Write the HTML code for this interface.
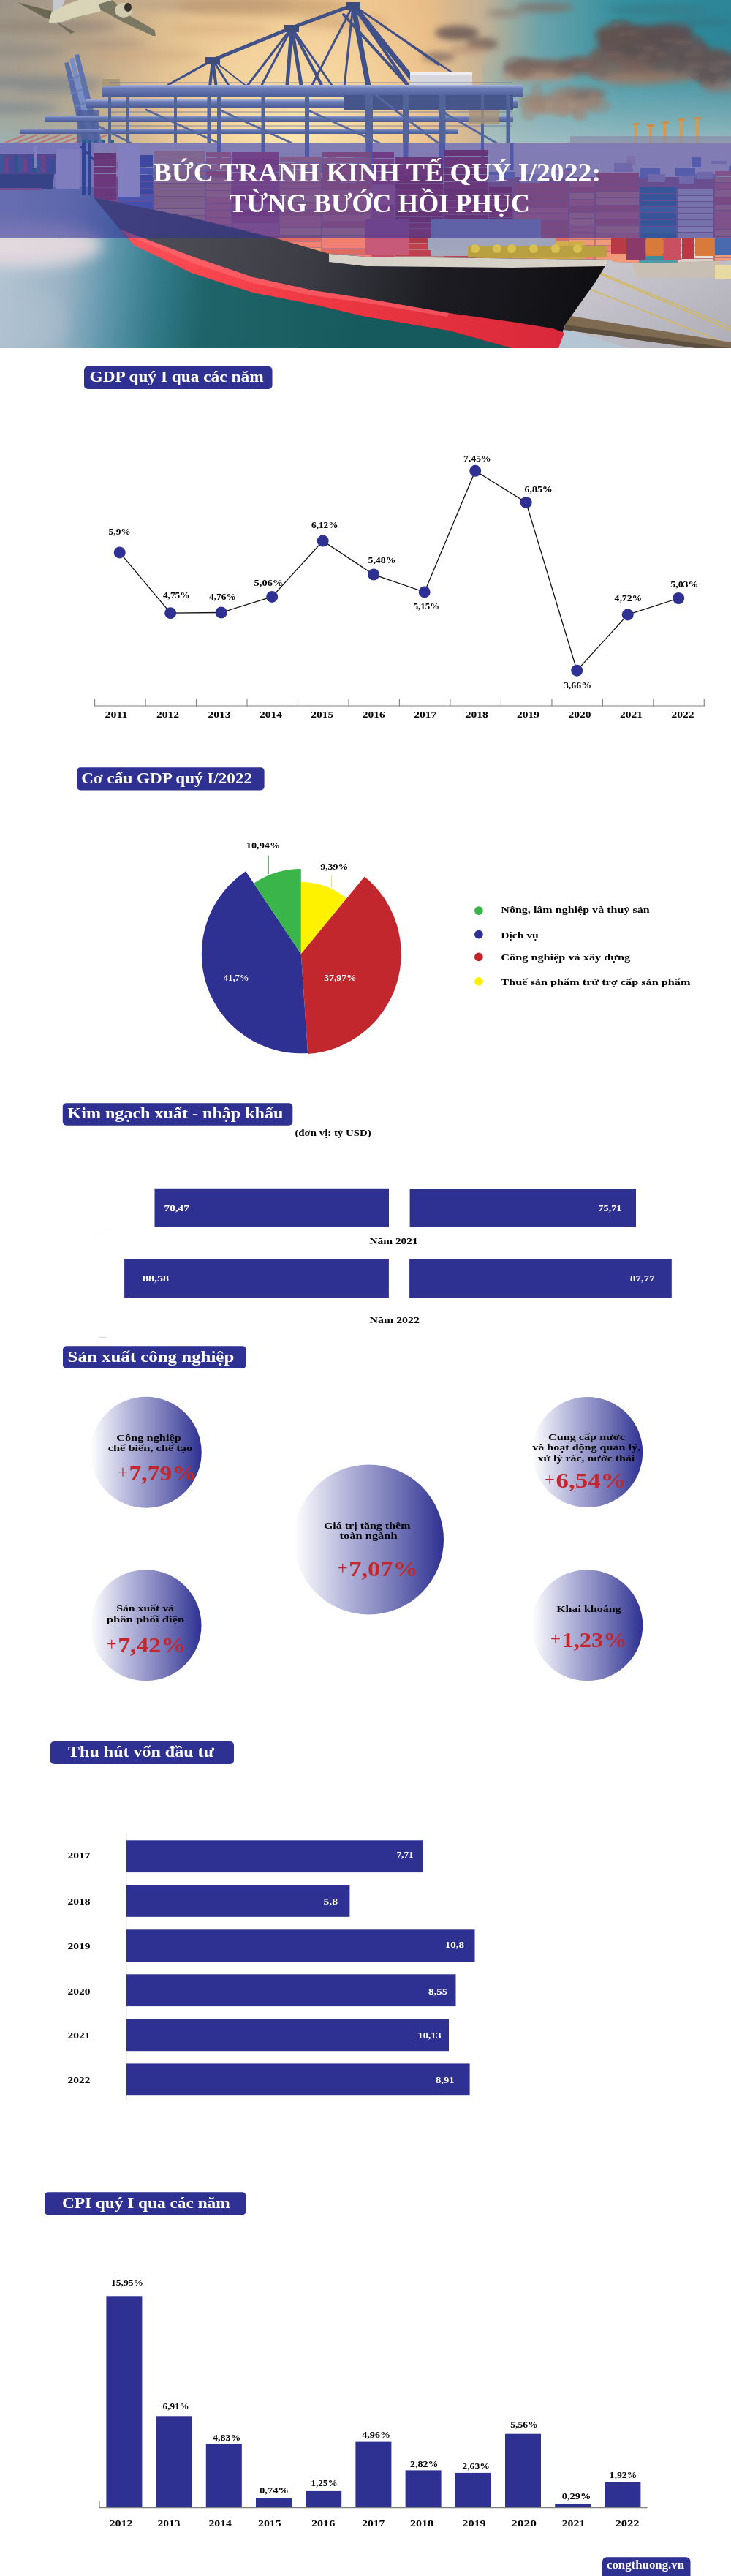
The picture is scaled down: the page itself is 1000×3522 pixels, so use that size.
<!DOCTYPE html>
<html><head><meta charset="utf-8"><title>Bức tranh kinh tế quý I/2022</title>
<style>
html,body{margin:0;padding:0;background:#fff;}
body{width:1000px;height:3522px;overflow:hidden;position:relative;font-family:"Liberation Serif", serif;}
svg{position:absolute;left:0;top:0;display:block;}
svg text{font-family:"Liberation Serif", serif;}
</style></head><body>
<svg width="1000" height="3522" viewBox="0 0 1000 3522">
<defs>
<clipPath id="phc"><rect x="0" y="0" width="1000" height="476"/></clipPath>
<linearGradient id="skyH" x1="0" y1="0" x2="1000" y2="0" gradientUnits="userSpaceOnUse">
 <stop offset="0" stop-color="#a09a90"/><stop offset="0.12" stop-color="#c2ab8c"/>
 <stop offset="0.3" stop-color="#e4c290"/><stop offset="0.46" stop-color="#eec892"/>
 <stop offset="0.58" stop-color="#e8bb86"/><stop offset="0.66" stop-color="#c4b296"/>
 <stop offset="0.74" stop-color="#6aa2aa"/><stop offset="0.85" stop-color="#35909f"/>
 <stop offset="1" stop-color="#2c8596"/></linearGradient>
<radialGradient id="glow" cx="400" cy="190" r="280" gradientUnits="userSpaceOnUse">
 <stop offset="0" stop-color="#fbe6ae" stop-opacity="1"/><stop offset="0.45" stop-color="#f6d6a0" stop-opacity="0.75"/>
 <stop offset="1" stop-color="#f0c890" stop-opacity="0"/></radialGradient>
<linearGradient id="leftV" x1="0" y1="0" x2="0" y2="196" gradientUnits="userSpaceOnUse">
 <stop offset="0" stop-color="#9a8e82" stop-opacity="0.6"/><stop offset="0.5" stop-color="#a8a090" stop-opacity="0.3"/>
 <stop offset="1" stop-color="#9cb4b4" stop-opacity="0.9"/></linearGradient>
<linearGradient id="leftH" x1="0" y1="0" x2="220" y2="0" gradientUnits="userSpaceOnUse">
 <stop offset="0" stop-color="#fff" stop-opacity="1"/><stop offset="1" stop-color="#fff" stop-opacity="0"/></linearGradient>
<mask id="leftM"><rect x="0" y="0" width="220" height="196" fill="url(#leftH)"/></mask>
<linearGradient id="horizR" x1="0" y1="60" x2="0" y2="196" gradientUnits="userSpaceOnUse">
 <stop offset="0" stop-color="#7fb2b8" stop-opacity="0"/><stop offset="1" stop-color="#a4c0c4" stop-opacity="0.9"/></linearGradient>
<linearGradient id="water" x1="0" y1="380" x2="500" y2="440" gradientUnits="userSpaceOnUse">
 <stop offset="0" stop-color="#b4c4d2"/><stop offset="0.18" stop-color="#98b2c4"/>
 <stop offset="0.3" stop-color="#5e96ac"/><stop offset="0.42" stop-color="#357c8c"/><stop offset="0.56" stop-color="#1f6468"/><stop offset="1" stop-color="#175a5e"/></linearGradient>
<linearGradient id="hull" x1="128" y1="270" x2="800" y2="440" gradientUnits="userSpaceOnUse">
 <stop offset="0" stop-color="#55555e"/><stop offset="0.45" stop-color="#3c3c44"/><stop offset="0.7" stop-color="#1c1c22"/><stop offset="1" stop-color="#101014"/></linearGradient>
<linearGradient id="redst" x1="170" y1="0" x2="770" y2="0" gradientUnits="userSpaceOnUse">
 <stop offset="0" stop-color="#ff5058"/><stop offset="0.4" stop-color="#f03a44"/><stop offset="1" stop-color="#d8283a"/></linearGradient>
<linearGradient id="dock" x1="0" y1="0" x2="1" y2="1">
 <stop offset="0" stop-color="#cfcbd2"/><stop offset="1" stop-color="#aeaeb8"/></linearGradient>
<linearGradient id="boom" x1="0" y1="0" x2="0" y2="1">
 <stop offset="0" stop-color="#a8b4de"/><stop offset="0.3" stop-color="#6a7cb6"/><stop offset="1" stop-color="#4a5a94"/></linearGradient>
<filter id="b2" x="-20%" y="-20%" width="140%" height="140%"><feGaussianBlur stdDeviation="2"/></filter>
<filter id="b4" x="-30%" y="-30%" width="160%" height="160%"><feGaussianBlur stdDeviation="4"/></filter>
<filter id="b6" x="-30%" y="-30%" width="160%" height="160%"><feGaussianBlur stdDeviation="6"/></filter>
<filter id="b10" x="-30%" y="-50%" width="160%" height="200%"><feGaussianBlur stdDeviation="10"/></filter>
<filter id="b1"><feGaussianBlur stdDeviation="0.7"/></filter>
</defs>
<g clip-path="url(#phc)">
<rect x="0" y="0" width="1000" height="476" fill="url(#skyH)"/>
<rect x="0" y="0" width="1000" height="300" fill="url(#glow)"/>
<rect x="0" y="0" width="220" height="196" fill="url(#leftV)" mask="url(#leftM)"/>
<rect x="660" y="0" width="340" height="200" fill="url(#horizR)"/>
<g filter="url(#b6)" opacity="0.6"><ellipse cx="50" cy="112" rx="95" ry="8" fill="#74808a"/><ellipse cx="80" cy="124" rx="60" ry="5" fill="#808890"/><ellipse cx="20" cy="148" rx="60" ry="7" fill="#76828c"/><ellipse cx="70" cy="36" rx="90" ry="10" fill="#8e8276"/><ellipse cx="30" cy="70" rx="60" ry="8" fill="#8c8880"/><ellipse cx="290" cy="6" rx="110" ry="10" fill="#b09a82"/><ellipse cx="140" cy="60" rx="60" ry="6" fill="#a8927e"/></g>
<g filter="url(#b6)"><ellipse cx="360" cy="8" rx="120" ry="14" fill="#c0966c" opacity="0.6"/><ellipse cx="470" cy="30" rx="60" ry="10" fill="#c89a70" opacity="0.5"/><ellipse cx="300" cy="40" rx="70" ry="8" fill="#d0a478" opacity="0.4"/><ellipse cx="200" cy="75" rx="80" ry="9" fill="#c8a07c" opacity="0.35"/></g>
<g opacity="0.85">
<line x1="5" y1="196" x2="35" y2="184" stroke="#c86a6a" stroke-width="2"/>
<line x1="21" y1="196" x2="51" y2="184" stroke="#c86a6a" stroke-width="2"/>
<line x1="37" y1="196" x2="67" y2="184" stroke="#c86a6a" stroke-width="2"/>
<line x1="53" y1="196" x2="83" y2="184" stroke="#c86a6a" stroke-width="2"/>
<line x1="69" y1="196" x2="99" y2="184" stroke="#c86a6a" stroke-width="2"/>
<line x1="85" y1="196" x2="115" y2="184" stroke="#c86a6a" stroke-width="2"/>
<line x1="101" y1="196" x2="131" y2="184" stroke="#c86a6a" stroke-width="2"/>
<line x1="117" y1="196" x2="147" y2="184" stroke="#c86a6a" stroke-width="2"/>
</g>
<g filter="url(#b4)">
<ellipse cx="880" cy="60" rx="62" ry="26" fill="#5a4e50" opacity="0.95"/>
<ellipse cx="850" cy="48" rx="36" ry="16" fill="#62524f" opacity="0.95"/>
<ellipse cx="915" cy="45" rx="34" ry="14" fill="#5c5052" opacity="0.9"/>
<ellipse cx="900" cy="85" rx="55" ry="20" fill="#645654" opacity="0.9"/>
<ellipse cx="850" cy="95" rx="45" ry="14" fill="#7a645c" opacity="0.85"/>
<ellipse cx="940" cy="70" rx="30" ry="16" fill="#5e5456" opacity="0.9"/>
<ellipse cx="870" cy="108" rx="50" ry="9" fill="#9a7c6c" opacity="0.8"/>
<ellipse cx="915" cy="105" rx="40" ry="8" fill="#8e7668" opacity="0.8"/>
<ellipse cx="830" cy="76" rx="25" ry="12" fill="#6e5c58" opacity="0.9"/>
<ellipse cx="978" cy="92" rx="30" ry="26" fill="#5e5658" opacity="0.9"/>
<ellipse cx="985" cy="118" rx="25" ry="8" fill="#8a7470" opacity="0.8"/>
<ellipse cx="750" cy="94" rx="62" ry="12" fill="#7e6a62" opacity="0.9"/>
<ellipse cx="735" cy="104" rx="50" ry="7" fill="#b08e78" opacity="0.85"/>
<ellipse cx="790" cy="88" rx="30" ry="9" fill="#6e5c58" opacity="0.9"/>
<ellipse cx="770" cy="138" rx="55" ry="10" fill="#9a8274" opacity="0.85"/>
<ellipse cx="760" cy="148" rx="45" ry="6" fill="#b89c88" opacity="0.8"/>
<ellipse cx="800" cy="128" rx="30" ry="8" fill="#7e6c66" opacity="0.8"/>
<ellipse cx="625" cy="45" rx="30" ry="10" fill="#6a5856" opacity="0.85"/>
<ellipse cx="660" cy="60" rx="22" ry="8" fill="#705e58" opacity="0.8"/>
<ellipse cx="640" cy="68" rx="25" ry="6" fill="#b89078" opacity="0.7"/>
<ellipse cx="600" cy="78" rx="22" ry="7" fill="#7a6660" opacity="0.7"/>
<ellipse cx="745" cy="10" rx="40" ry="7" fill="#7e7068" opacity="0.75"/>
<ellipse cx="690" cy="18" rx="25" ry="5" fill="#8e7a70" opacity="0.7"/>
<ellipse cx="900" cy="14" rx="70" ry="8" fill="#3a7684" opacity="0.5"/>
<ellipse cx="960" cy="30" rx="40" ry="6" fill="#3a7080" opacity="0.5"/>
</g>
<g filter="url(#b2)" opacity="0.85">
<ellipse cx="884" cy="58" rx="21" ry="9" fill="#5e5052" opacity="0.5"/>
<ellipse cx="882" cy="63" rx="15" ry="3" fill="#b89480" opacity="0.18"/>
<ellipse cx="891" cy="59" rx="11" ry="9" fill="#5e5052" opacity="0.5"/>
<ellipse cx="889" cy="65" rx="7" ry="3" fill="#b89480" opacity="0.18"/>
<ellipse cx="906" cy="70" rx="9" ry="7" fill="#5e5052" opacity="0.5"/>
<ellipse cx="904" cy="74" rx="7" ry="3" fill="#b89480" opacity="0.18"/>
<ellipse cx="841" cy="70" rx="18" ry="5" fill="#5e5052" opacity="0.5"/>
<ellipse cx="839" cy="74" rx="12" ry="2" fill="#b89480" opacity="0.18"/>
<ellipse cx="948" cy="78" rx="17" ry="10" fill="#5e5052" opacity="0.5"/>
<ellipse cx="946" cy="84" rx="12" ry="3" fill="#b89480" opacity="0.18"/>
<ellipse cx="849" cy="31" rx="15" ry="5" fill="#5e5052" opacity="0.5"/>
<ellipse cx="847" cy="34" rx="11" ry="2" fill="#b89480" opacity="0.18"/>
<ellipse cx="853" cy="42" rx="8" ry="9" fill="#5e5052" opacity="0.5"/>
<ellipse cx="851" cy="47" rx="6" ry="3" fill="#b89480" opacity="0.18"/>
<ellipse cx="883" cy="72" rx="15" ry="10" fill="#5e5052" opacity="0.5"/>
<ellipse cx="881" cy="78" rx="11" ry="4" fill="#b89480" opacity="0.18"/>
<ellipse cx="890" cy="63" rx="14" ry="7" fill="#5e5052" opacity="0.5"/>
<ellipse cx="888" cy="67" rx="10" ry="3" fill="#b89480" opacity="0.18"/>
<ellipse cx="950" cy="80" rx="20" ry="11" fill="#5e5052" opacity="0.5"/>
<ellipse cx="948" cy="86" rx="14" ry="4" fill="#b89480" opacity="0.18"/>
<ellipse cx="868" cy="41" rx="12" ry="6" fill="#5e5052" opacity="0.5"/>
<ellipse cx="866" cy="45" rx="8" ry="2" fill="#b89480" opacity="0.18"/>
<ellipse cx="922" cy="50" rx="20" ry="8" fill="#5e5052" opacity="0.5"/>
<ellipse cx="920" cy="55" rx="14" ry="3" fill="#b89480" opacity="0.18"/>
<ellipse cx="945" cy="72" rx="8" ry="7" fill="#5e5052" opacity="0.5"/>
<ellipse cx="943" cy="76" rx="6" ry="2" fill="#b89480" opacity="0.18"/>
<ellipse cx="939" cy="53" rx="22" ry="8" fill="#5e5052" opacity="0.5"/>
<ellipse cx="937" cy="58" rx="15" ry="3" fill="#b89480" opacity="0.18"/>
<ellipse cx="709" cy="94" rx="19" ry="7" fill="#7a6660" opacity="0.5"/>
<ellipse cx="707" cy="98" rx="13" ry="3" fill="#b89480" opacity="0.18"/>
<ellipse cx="710" cy="87" rx="21" ry="11" fill="#7a6660" opacity="0.5"/>
<ellipse cx="708" cy="94" rx="15" ry="4" fill="#b89480" opacity="0.18"/>
<ellipse cx="714" cy="85" rx="9" ry="5" fill="#7a6660" opacity="0.5"/>
<ellipse cx="712" cy="89" rx="7" ry="2" fill="#b89480" opacity="0.18"/>
<ellipse cx="796" cy="84" rx="16" ry="9" fill="#7a6660" opacity="0.5"/>
<ellipse cx="794" cy="89" rx="11" ry="3" fill="#b89480" opacity="0.18"/>
<ellipse cx="723" cy="96" rx="10" ry="10" fill="#7a6660" opacity="0.5"/>
<ellipse cx="721" cy="102" rx="7" ry="4" fill="#b89480" opacity="0.18"/>
<ellipse cx="714" cy="89" rx="11" ry="7" fill="#7a6660" opacity="0.5"/>
<ellipse cx="712" cy="94" rx="8" ry="3" fill="#b89480" opacity="0.18"/>
<ellipse cx="817" cy="98" rx="12" ry="12" fill="#7a6660" opacity="0.5"/>
<ellipse cx="815" cy="105" rx="9" ry="4" fill="#b89480" opacity="0.18"/>
<ellipse cx="725" cy="89" rx="20" ry="10" fill="#7a6660" opacity="0.5"/>
<ellipse cx="723" cy="95" rx="14" ry="4" fill="#b89480" opacity="0.18"/>
<ellipse cx="712" cy="102" rx="11" ry="7" fill="#7a6660" opacity="0.5"/>
<ellipse cx="710" cy="106" rx="8" ry="2" fill="#b89480" opacity="0.18"/>
<ellipse cx="793" cy="87" rx="12" ry="6" fill="#7a6660" opacity="0.5"/>
<ellipse cx="791" cy="91" rx="9" ry="2" fill="#b89480" opacity="0.18"/>
<ellipse cx="711" cy="93" rx="11" ry="10" fill="#7a6660" opacity="0.5"/>
<ellipse cx="709" cy="99" rx="8" ry="3" fill="#b89480" opacity="0.18"/>
<ellipse cx="745" cy="90" rx="21" ry="9" fill="#7a6660" opacity="0.5"/>
<ellipse cx="743" cy="95" rx="15" ry="3" fill="#b89480" opacity="0.18"/>
<ellipse cx="769" cy="99" rx="11" ry="6" fill="#7a6660" opacity="0.5"/>
<ellipse cx="767" cy="103" rx="7" ry="2" fill="#b89480" opacity="0.18"/>
<ellipse cx="809" cy="98" rx="11" ry="7" fill="#7a6660" opacity="0.5"/>
<ellipse cx="807" cy="102" rx="8" ry="2" fill="#b89480" opacity="0.18"/>
<ellipse cx="794" cy="153" rx="11" ry="13" fill="#9a8274" opacity="0.5"/>
<ellipse cx="792" cy="161" rx="8" ry="4" fill="#b89480" opacity="0.18"/>
<ellipse cx="808" cy="143" rx="14" ry="6" fill="#9a8274" opacity="0.5"/>
<ellipse cx="806" cy="147" rx="10" ry="2" fill="#b89480" opacity="0.18"/>
<ellipse cx="724" cy="154" rx="11" ry="11" fill="#9a8274" opacity="0.5"/>
<ellipse cx="722" cy="160" rx="8" ry="4" fill="#b89480" opacity="0.18"/>
<ellipse cx="746" cy="150" rx="16" ry="7" fill="#9a8274" opacity="0.5"/>
<ellipse cx="744" cy="154" rx="11" ry="3" fill="#b89480" opacity="0.18"/>
<ellipse cx="738" cy="147" rx="9" ry="7" fill="#9a8274" opacity="0.5"/>
<ellipse cx="736" cy="151" rx="6" ry="2" fill="#b89480" opacity="0.18"/>
<ellipse cx="776" cy="151" rx="17" ry="7" fill="#9a8274" opacity="0.5"/>
<ellipse cx="774" cy="155" rx="12" ry="3" fill="#b89480" opacity="0.18"/>
<ellipse cx="812" cy="131" rx="8" ry="7" fill="#9a8274" opacity="0.5"/>
<ellipse cx="810" cy="135" rx="6" ry="3" fill="#b89480" opacity="0.18"/>
<ellipse cx="765" cy="127" rx="10" ry="8" fill="#9a8274" opacity="0.5"/>
<ellipse cx="763" cy="132" rx="7" ry="3" fill="#b89480" opacity="0.18"/>
<ellipse cx="777" cy="129" rx="13" ry="12" fill="#9a8274" opacity="0.5"/>
<ellipse cx="775" cy="136" rx="9" ry="4" fill="#b89480" opacity="0.18"/>
<ellipse cx="818" cy="145" rx="18" ry="10" fill="#9a8274" opacity="0.5"/>
<ellipse cx="816" cy="151" rx="12" ry="3" fill="#b89480" opacity="0.18"/>
<ellipse cx="734" cy="126" rx="8" ry="12" fill="#9a8274" opacity="0.5"/>
<ellipse cx="732" cy="133" rx="6" ry="4" fill="#b89480" opacity="0.18"/>
<ellipse cx="790" cy="154" rx="8" ry="10" fill="#9a8274" opacity="0.5"/>
<ellipse cx="788" cy="160" rx="6" ry="4" fill="#b89480" opacity="0.18"/>
<ellipse cx="768" cy="147" rx="12" ry="13" fill="#9a8274" opacity="0.5"/>
<ellipse cx="766" cy="155" rx="9" ry="5" fill="#b89480" opacity="0.18"/>
<ellipse cx="728" cy="141" rx="18" ry="12" fill="#9a8274" opacity="0.5"/>
<ellipse cx="726" cy="149" rx="13" ry="4" fill="#b89480" opacity="0.18"/>
<ellipse cx="984" cy="99" rx="19" ry="12" fill="#605658" opacity="0.5"/>
<ellipse cx="982" cy="106" rx="13" ry="4" fill="#b89480" opacity="0.18"/>
<ellipse cx="961" cy="98" rx="21" ry="12" fill="#605658" opacity="0.5"/>
<ellipse cx="959" cy="105" rx="14" ry="4" fill="#b89480" opacity="0.18"/>
<ellipse cx="965" cy="103" rx="20" ry="10" fill="#605658" opacity="0.5"/>
<ellipse cx="963" cy="109" rx="14" ry="3" fill="#b89480" opacity="0.18"/>
<ellipse cx="977" cy="81" rx="16" ry="10" fill="#605658" opacity="0.5"/>
<ellipse cx="975" cy="87" rx="11" ry="3" fill="#b89480" opacity="0.18"/>
<ellipse cx="945" cy="95" rx="22" ry="12" fill="#605658" opacity="0.5"/>
<ellipse cx="943" cy="102" rx="15" ry="4" fill="#b89480" opacity="0.18"/>
<ellipse cx="984" cy="81" rx="18" ry="10" fill="#605658" opacity="0.5"/>
<ellipse cx="982" cy="87" rx="13" ry="3" fill="#b89480" opacity="0.18"/>
<ellipse cx="966" cy="106" rx="9" ry="11" fill="#605658" opacity="0.5"/>
<ellipse cx="964" cy="113" rx="6" ry="4" fill="#b89480" opacity="0.18"/>
<ellipse cx="942" cy="93" rx="15" ry="7" fill="#605658" opacity="0.5"/>
<ellipse cx="940" cy="97" rx="10" ry="2" fill="#b89480" opacity="0.18"/>
<ellipse cx="982" cy="87" rx="17" ry="12" fill="#605658" opacity="0.5"/>
<ellipse cx="980" cy="95" rx="12" ry="4" fill="#b89480" opacity="0.18"/>
<ellipse cx="955" cy="61" rx="12" ry="10" fill="#605658" opacity="0.5"/>
<ellipse cx="953" cy="67" rx="9" ry="4" fill="#b89480" opacity="0.18"/>
<ellipse cx="952" cy="69" rx="21" ry="10" fill="#605658" opacity="0.5"/>
<ellipse cx="950" cy="75" rx="14" ry="4" fill="#b89480" opacity="0.18"/>
<ellipse cx="967" cy="109" rx="13" ry="10" fill="#605658" opacity="0.5"/>
<ellipse cx="965" cy="115" rx="9" ry="4" fill="#b89480" opacity="0.18"/>
<ellipse cx="952" cy="84" rx="19" ry="12" fill="#605658" opacity="0.5"/>
<ellipse cx="950" cy="91" rx="13" ry="4" fill="#b89480" opacity="0.18"/>
<ellipse cx="993" cy="81" rx="16" ry="8" fill="#605658" opacity="0.5"/>
<ellipse cx="991" cy="86" rx="11" ry="3" fill="#b89480" opacity="0.18"/>
</g>
<rect x="868" y="168" width="4" height="28" fill="#d49a50"/>
<rect x="865" y="168" width="10" height="3" fill="#c89050"/>
<rect x="888" y="170" width="4" height="26" fill="#d49a50"/>
<rect x="885" y="170" width="10" height="3" fill="#c89050"/>
<rect x="908" y="166" width="4" height="30" fill="#d49a50"/>
<rect x="905" y="166" width="10" height="3" fill="#c89050"/>
<rect x="930" y="162" width="4" height="34" fill="#d49a50"/>
<rect x="927" y="162" width="10" height="3" fill="#c89050"/>
<rect x="952" y="160" width="4" height="36" fill="#d49a50"/>
<rect x="949" y="160" width="10" height="3" fill="#c89050"/>
<rect x="780" y="186" width="220" height="10" fill="#8a8ca8" opacity="0.7"/>
<polygon points="88,86 94,85 125,196 113,196" fill="#5a6eac"/>
<polygon points="95,80 101,79 132,196 122,196" fill="#7a8ec8"/>
<polygon points="102,75 108,74 140,196 130,196" fill="#5e72b0"/>
<line x1="93" y1="110" x2="108" y2="104" stroke="#6a7cb4" stroke-width="2" stroke-linecap="round"/>
<line x1="97" y1="128" x2="113" y2="122" stroke="#6a7cb4" stroke-width="2" stroke-linecap="round"/>
<line x1="102" y1="146" x2="118" y2="140" stroke="#6a7cb4" stroke-width="2" stroke-linecap="round"/>
<line x1="106" y1="164" x2="124" y2="158" stroke="#6a7cb4" stroke-width="2" stroke-linecap="round"/>
<rect x="105" y="150" width="30" height="46" fill="#4c5e98" opacity="0.8"/>
<line x1="291" y1="82" x2="286" y2="128" stroke="#405088" stroke-width="4" stroke-linecap="round"/>
<line x1="291" y1="82" x2="297" y2="128" stroke="#405088" stroke-width="4" stroke-linecap="round"/>
<line x1="291" y1="82" x2="252" y2="104" stroke="#405088" stroke-width="3" stroke-linecap="round"/>
<line x1="291" y1="82" x2="230" y2="116" stroke="#405088" stroke-width="3" stroke-linecap="round"/>
<line x1="291" y1="82" x2="320" y2="128" stroke="#405088" stroke-width="3" stroke-linecap="round"/>
<line x1="291" y1="82" x2="340" y2="120" stroke="#405088" stroke-width="2" stroke-linecap="round"/>
<line x1="291" y1="82" x2="399" y2="38" stroke="#405088" stroke-width="5" stroke-linecap="round"/>
<line x1="399" y1="38" x2="392" y2="128" stroke="#405088" stroke-width="5" stroke-linecap="round"/>
<line x1="399" y1="38" x2="414" y2="128" stroke="#405088" stroke-width="5" stroke-linecap="round"/>
<line x1="399" y1="38" x2="446" y2="128" stroke="#405088" stroke-width="4" stroke-linecap="round"/>
<line x1="399" y1="38" x2="462" y2="128" stroke="#405088" stroke-width="3" stroke-linecap="round"/>
<line x1="399" y1="38" x2="330" y2="128" stroke="#405088" stroke-width="3" stroke-linecap="round"/>
<line x1="399" y1="38" x2="352" y2="128" stroke="#405088" stroke-width="3" stroke-linecap="round"/>
<line x1="399" y1="38" x2="483" y2="7" stroke="#405088" stroke-width="5" stroke-linecap="round"/>
<line x1="483" y1="7" x2="504" y2="118" stroke="#405088" stroke-width="7" stroke-linecap="round"/>
<line x1="483" y1="7" x2="572" y2="118" stroke="#405088" stroke-width="7" stroke-linecap="round"/>
<line x1="483" y1="7" x2="559" y2="118" stroke="#405088" stroke-width="4" stroke-linecap="round"/>
<line x1="483" y1="7" x2="624" y2="103" stroke="#405088" stroke-width="2.5" stroke-linecap="round"/>
<line x1="483" y1="7" x2="600" y2="89" stroke="#405088" stroke-width="2" stroke-linecap="round"/>
<line x1="483" y1="7" x2="421" y2="128" stroke="#405088" stroke-width="3" stroke-linecap="round"/>
<line x1="483" y1="7" x2="470" y2="128" stroke="#405088" stroke-width="3" stroke-linecap="round"/>
<line x1="470" y1="20" x2="559" y2="118" stroke="#405088" stroke-width="4" stroke-linecap="round"/>
<rect x="281" y="78" width="20" height="10" fill="#3e4c7c"/>
<rect x="389" y="34" width="20" height="10" fill="#3e4c7c"/>
<rect x="473" y="3" width="20" height="10" fill="#3e4c7c"/>
<rect x="561" y="99" width="85" height="20" fill="#d6d6dc"/>
<rect x="561" y="99" width="85" height="4" fill="#eeeef0"/>
<rect x="140" y="116" width="575" height="17" fill="url(#boom)"/>
<rect x="140" y="108" width="24" height="10" fill="#a89a78"/>
<rect x="118" y="136" width="590" height="11" fill="url(#boom)"/>
<rect x="470" y="130" width="232" height="20" fill="#46568a"/>
<rect x="62" y="158" width="640" height="9" fill="url(#boom)"/>
<rect x="27" y="176" width="600" height="7" fill="url(#boom)"/>
<line x1="150" y1="113" x2="700" y2="113" stroke="#5a6aa0" stroke-width="1" opacity="0.7"/>
<line x1="150" y1="153" x2="700" y2="153" stroke="#5a6aa0" stroke-width="1" opacity="0.7"/>
<line x1="150" y1="172" x2="700" y2="172" stroke="#5a6aa0" stroke-width="1" opacity="0.7"/>
<rect x="500.0" y="130" width="10" height="66" fill="#52649a"/>
<rect x="551.0" y="130" width="8" height="66" fill="#52649a"/>
<rect x="600.5" y="130" width="9" height="66" fill="#52649a"/>
<rect x="417.0" y="130" width="6" height="66" fill="#52649a"/>
<rect x="357.5" y="130" width="5" height="66" fill="#52649a"/>
<rect x="297.0" y="130" width="6" height="66" fill="#52649a"/>
<rect x="283.5" y="130" width="5" height="66" fill="#52649a"/>
<rect x="238.0" y="130" width="4" height="66" fill="#52649a"/>
<rect x="658.0" y="130" width="4" height="66" fill="#52649a"/>
<rect x="692.5" y="130" width="5" height="66" fill="#52649a"/>
<rect x="173.0" y="130" width="4" height="66" fill="#52649a"/>
<rect x="148.0" y="130" width="4" height="66" fill="#52649a"/>
<line x1="514" y1="130" x2="600" y2="196" stroke="#56689e" stroke-width="3" stroke-linecap="round"/>
<line x1="420" y1="150" x2="520" y2="196" stroke="#56689e" stroke-width="3" stroke-linecap="round"/>
<line x1="300" y1="150" x2="400" y2="196" stroke="#56689e" stroke-width="3" stroke-linecap="round"/>
<line x1="200" y1="150" x2="300" y2="196" stroke="#56689e" stroke-width="3" stroke-linecap="round"/>
<line x1="600" y1="150" x2="680" y2="196" stroke="#56689e" stroke-width="3" stroke-linecap="round"/>
<line x1="130" y1="170" x2="180" y2="196" stroke="#56689e" stroke-width="3" stroke-linecap="round"/>
<rect x="641" y="150" width="42" height="20" fill="#a89478" opacity="0.8"/>
<g filter="url(#b1)"><polygon points="24,3.3 70.6,15 71,27 61,24" fill="#6a6852"/><polygon points="72,0 89,0 83,15 72,17" fill="#c4c8cc"/><polygon points="66.5,30 70.6,16.4 91,6 107.5,0 156,0 150,10 135,16 102,24 85.7,30 69.2,32" fill="#d9d3b8"/><polygon points="69,32 86,30 102,24 120,20 100,28 80,33" fill="#a8a288"/><polygon points="77.5,30 102,43.8 97,46 80,33" fill="#6c6a54"/><polygon points="135,5.5 154,0 173,19 211.5,41 213,49 208.8,49 167.7,30 148.6,19 137.6,13.7" fill="#7a7862"/><ellipse cx="169" cy="14" rx="12" ry="10" fill="#d2cab0"/><ellipse cx="175" cy="10" rx="5" ry="6" fill="#34322c"/></g>
<rect x="0" y="195" width="1000" height="135" fill="#dcd8e8"/>
<rect x="0" y="255" width="1000" height="221" fill="url(#water)"/>
<g filter="url(#b10)"><ellipse cx="40" cy="335" rx="100" ry="30" fill="#e6dade" opacity="0.9"/><ellipse cx="20" cy="440" rx="70" ry="50" fill="#b0c2d0" opacity="0.5"/></g>
<rect x="0" y="210" width="76" height="28" fill="#7a6a80"/>
<rect x="0.0" y="212" width="5.5" height="24" fill="#4a8a9a"/>
<rect x="6.3" y="215" width="5.5" height="21" fill="#c05a6a"/>
<rect x="12.6" y="218" width="5.5" height="18" fill="#5a6ab0"/>
<rect x="18.9" y="212" width="5.5" height="24" fill="#3a7a80"/>
<rect x="25.2" y="215" width="5.5" height="21" fill="#4a8a9a"/>
<rect x="31.5" y="218" width="5.5" height="18" fill="#c05a6a"/>
<rect x="37.8" y="212" width="5.5" height="24" fill="#5a6ab0"/>
<rect x="44.1" y="215" width="5.5" height="21" fill="#3a7a80"/>
<rect x="50.4" y="218" width="5.5" height="18" fill="#4a8a9a"/>
<rect x="56.7" y="212" width="5.5" height="24" fill="#c05a6a"/>
<rect x="63.0" y="215" width="5.5" height="21" fill="#5a6ab0"/>
<rect x="69.3" y="218" width="5.5" height="18" fill="#3a7a80"/>
<polygon points="0,238 74,238 72,258 8,260 0,259" fill="#3c5a6c"/>
<rect x="0" y="257" width="58" height="3" fill="#d07080"/>
<rect x="77" y="204" width="32" height="54" fill="#f0ecf6"/>
<rect x="46" y="200" width="4" height="30" fill="#f0f0f8"/>
<rect x="112" y="192" width="5" height="75" fill="#2a5e8e"/>
<rect x="120" y="192" width="4" height="75" fill="#2a5e8e"/>
<rect x="128" y="192" width="5" height="75" fill="#2a5e8e"/>
<rect x="140" y="192" width="4" height="75" fill="#2a5e8e"/>
<rect x="152" y="192" width="4" height="75" fill="#2a5e8e"/>
<line x1="110" y1="200" x2="160" y2="250" stroke="#2a5e8e" stroke-width="3"/>
<polygon points="760,352 1000,352 1000,476 770,476" fill="url(#dock)"/>
<polygon points="864,356 985,356 990,380 870,380" fill="#c9bfae" opacity="0.8"/>
<rect x="978" y="362" width="22" height="20" fill="#e6daa4"/>
<g stroke="#d6b850" stroke-width="1.6" opacity="0.85" fill="none"><line x1="811" y1="369" x2="1000" y2="447"/><line x1="793" y1="390" x2="1000" y2="472"/><line x1="815" y1="372" x2="1000" y2="452"/></g>
<polygon points="760,446 860,476 760,476" fill="#b4c6d4"/>
<polygon points="775,431 1000,468 1000,476 953,476 772,451" fill="#7e6a50"/>
<polygon points="773,444 1000,476 953,476 772,451" fill="#4e4438" opacity="0.7"/>
<clipPath id="cclip"><polygon points="128,195 1000,195 1000,356 900,360 840,358 835,355 500,351 450,347 374,325 264,298 128,270"/></clipPath>
<g clip-path="url(#cclip)"><rect x="128" y="192" width="872" height="170" fill="#b87880"/>
<rect x="128" y="192" width="872" height="50" fill="#f4ecdc"/>
<rect x="459" y="232" width="17" height="10" fill="#a0a8d0"/>
<rect x="202" y="230" width="14" height="9" fill="#a0a8d0"/>
<rect x="647" y="214" width="21" height="4" fill="#8898c8"/>
<rect x="556" y="214" width="12" height="7" fill="#f0d0c0"/>
<rect x="562" y="215" width="11" height="13" fill="#c8b8c8"/>
<rect x="773" y="230" width="11" height="13" fill="#8898c8"/>
<rect x="178" y="229" width="22" height="4" fill="#c8b8c8"/>
<rect x="424" y="229" width="34" height="6" fill="#a0a8d0"/>
<rect x="712" y="238" width="27" height="12" fill="#c8b8c8"/>
<rect x="233" y="215" width="20" height="9" fill="#f0d0c0"/>
<rect x="857" y="213" width="12" height="13" fill="#f0d0c0"/>
<rect x="338" y="229" width="39" height="14" fill="#8898c8"/>
<rect x="923" y="230" width="28" height="11" fill="#8898c8"/>
<rect x="498" y="237" width="27" height="7" fill="#c8b8c8"/>
<rect x="843" y="230" width="23" height="5" fill="#e0a0a0"/>
<rect x="665" y="235" width="39" height="9" fill="#8898c8"/>
<rect x="422" y="228" width="12" height="5" fill="#8898c8"/>
<rect x="296" y="227" width="29" height="6" fill="#8898c8"/>
<rect x="168" y="230" width="12" height="12" fill="#e0a0a0"/>
<rect x="476" y="227" width="30" height="13" fill="#f0d0c0"/>
<rect x="944" y="238" width="37" height="5" fill="#a0a8d0"/>
<rect x="404" y="214" width="38" height="14" fill="#a0a8d0"/>
<rect x="876" y="230" width="27" height="14" fill="#8898c8"/>
<rect x="419" y="223" width="32" height="14" fill="#a0a8d0"/>
<rect x="600" y="231" width="30" height="6" fill="#a0a8d0"/>
<rect x="633" y="236" width="11" height="7" fill="#e0a0a0"/>
<rect x="260" y="224" width="23" height="10" fill="#8898c8"/>
<rect x="210" y="224" width="18" height="11" fill="#f0d0c0"/>
<rect x="412" y="239" width="16" height="10" fill="#f0d0c0"/>
<rect x="413" y="233" width="34" height="9" fill="#8898c8"/>
<rect x="364" y="217" width="17" height="5" fill="#c8b8c8"/>
<rect x="365" y="227" width="22" height="4" fill="#f0d0c0"/>
<rect x="314" y="212" width="24" height="8" fill="#c8b8c8"/>
<rect x="557" y="230" width="31" height="13" fill="#e0a0a0"/>
<rect x="256" y="232" width="40" height="13" fill="#a0a8d0"/>
<rect x="595" y="224" width="33" height="10" fill="#8898c8"/>
<rect x="234" y="224" width="38" height="14" fill="#a0a8d0"/>
<rect x="323" y="226" width="12" height="7" fill="#c8b8c8"/>
<rect x="240" y="213" width="29" height="13" fill="#a0a8d0"/>
<rect x="128" y="215" width="17" height="12" fill="#e0a0a0"/>
<rect x="756" y="239" width="9" height="5" fill="#c8b8c8"/>
<rect x="756" y="232" width="32" height="6" fill="#e0a0a0"/>
<rect x="483" y="215" width="31" height="11" fill="#a0a8d0"/>
<rect x="997" y="227" width="39" height="11" fill="#8898c8"/>
<rect x="447" y="215" width="13" height="6" fill="#e0a0a0"/>
<rect x="886" y="238" width="24" height="11" fill="#c8b8c8"/>
<rect x="656" y="228" width="9" height="7" fill="#e0a0a0"/>
<rect x="278" y="221" width="9" height="12" fill="#a0a8d0"/>
<rect x="840" y="223" width="24" height="12" fill="#c8b8c8"/>
<rect x="492" y="229" width="22" height="12" fill="#f0d0c0"/>
<rect x="465" y="237" width="22" height="13" fill="#c8b8c8"/>
<rect x="953" y="235" width="23" height="10" fill="#c8b8c8"/>
<rect x="332" y="235" width="39" height="9" fill="#a0a8d0"/>
<rect x="156" y="220" width="25" height="11" fill="#c8b8c8"/>
<rect x="837" y="237" width="30" height="11" fill="#e0a0a0"/>
<rect x="501" y="215" width="13" height="7" fill="#c8b8c8"/>
<rect x="609" y="218" width="20" height="9" fill="#8898c8"/>
<rect x="767" y="232" width="8" height="11" fill="#e0a0a0"/>
<rect x="946" y="215" width="13" height="14" fill="#8898c8"/>
<rect x="929" y="240" width="20" height="11" fill="#c8b8c8"/>
<rect x="572" y="237" width="29" height="5" fill="#8898c8"/>
<rect x="602" y="235" width="33" height="5" fill="#c8b8c8"/>
<rect x="302" y="216" width="16" height="4" fill="#f0d0c0"/>
<rect x="604" y="238" width="17" height="13" fill="#f0d0c0"/>
<rect x="613" y="229" width="30" height="6" fill="#f0d0c0"/>
<rect x="262" y="237" width="9" height="4" fill="#a0a8d0"/>
<rect x="667" y="239" width="16" height="10" fill="#c8b8c8"/>
<rect x="973" y="220" width="21" height="4" fill="#c8b8c8"/>
<rect x="427" y="236" width="40" height="7" fill="#f0d0c0"/>
<rect x="461" y="225" width="24" height="12" fill="#c8b8c8"/>
<rect x="297.0" y="192" width="6" height="40" fill="#8090c0"/>
<rect x="357.5" y="192" width="5" height="40" fill="#8090c0"/>
<rect x="417.0" y="192" width="6" height="40" fill="#8090c0"/>
<rect x="500.5" y="192" width="9" height="40" fill="#8090c0"/>
<rect x="551.5" y="192" width="7" height="40" fill="#8090c0"/>
<rect x="601.0" y="192" width="8" height="40" fill="#8090c0"/>
<rect x="658.0" y="192" width="4" height="40" fill="#8090c0"/>
<rect x="697.5" y="192" width="5" height="40" fill="#8090c0"/>
<rect x="128" y="209" width="31" height="8" fill="#b03848"/>
<rect x="128" y="218" width="31" height="9" fill="#c04050"/>
<rect x="128" y="228" width="31" height="9" fill="#c04050"/>
<rect x="128" y="238" width="31" height="9" fill="#c04050"/>
<rect x="128" y="248" width="31" height="8" fill="#c04050"/>
<rect x="128" y="257" width="31" height="9" fill="#c04050"/>
<rect x="128" y="267" width="31" height="7" fill="#c04050"/>
<rect x="128" y="275" width="31" height="7" fill="#b03848"/>
<rect x="128" y="283" width="31" height="9" fill="#c04050"/>
<rect x="128" y="293" width="31" height="9" fill="#c04050"/>
<rect x="128" y="303" width="31" height="8" fill="#b03848"/>
<rect x="128" y="312" width="31" height="7" fill="#c04050"/>
<rect x="128" y="320" width="31" height="7" fill="#c04050"/>
<rect x="128" y="328" width="31" height="8" fill="#c04050"/>
<rect x="128" y="337" width="31" height="7" fill="#b03848"/>
<rect x="128" y="345" width="31" height="9" fill="#c04050"/>
<rect x="128" y="355" width="31" height="7" fill="#b03848"/>
<rect x="161" y="212" width="48" height="9" fill="#4a68b0"/>
<rect x="161" y="222" width="48" height="7" fill="#4a68b0"/>
<rect x="161" y="230" width="48" height="8" fill="#6a88d0"/>
<rect x="161" y="239" width="48" height="9" fill="#4a68b0"/>
<rect x="161" y="249" width="48" height="8" fill="#4a68b0"/>
<rect x="161" y="258" width="48" height="7" fill="#4a68b0"/>
<rect x="161" y="266" width="48" height="9" fill="#6a88d0"/>
<rect x="161" y="276" width="48" height="9" fill="#5a78c0"/>
<rect x="161" y="286" width="48" height="8" fill="#5a78c0"/>
<rect x="161" y="295" width="48" height="8" fill="#5a78c0"/>
<rect x="161" y="304" width="48" height="8" fill="#6a88d0"/>
<rect x="161" y="313" width="48" height="8" fill="#5a78c0"/>
<rect x="161" y="322" width="48" height="9" fill="#5a78c0"/>
<rect x="161" y="332" width="48" height="8" fill="#5a78c0"/>
<rect x="161" y="341" width="48" height="7" fill="#4a68b0"/>
<rect x="161" y="349" width="48" height="8" fill="#5a78c0"/>
<rect x="161" y="358" width="48" height="7" fill="#4a68b0"/>
<rect x="211" y="206" width="69" height="8" fill="#f0b080"/>
<rect x="211" y="215" width="69" height="8" fill="#f0b080"/>
<rect x="211" y="224" width="69" height="9" fill="#f0b080"/>
<rect x="211" y="234" width="69" height="8" fill="#e8a070"/>
<rect x="211" y="243" width="69" height="7" fill="#f0b080"/>
<rect x="211" y="251" width="69" height="7" fill="#e8a070"/>
<rect x="211" y="259" width="69" height="9" fill="#e8a070"/>
<rect x="211" y="269" width="69" height="8" fill="#e8a070"/>
<rect x="211" y="278" width="69" height="7" fill="#e8a070"/>
<rect x="211" y="286" width="69" height="8" fill="#f0b080"/>
<rect x="211" y="295" width="69" height="9" fill="#e8a070"/>
<rect x="211" y="305" width="69" height="7" fill="#e8a070"/>
<rect x="211" y="313" width="69" height="9" fill="#e8a070"/>
<rect x="211" y="323" width="69" height="8" fill="#f0b080"/>
<rect x="211" y="332" width="69" height="8" fill="#e8a070"/>
<rect x="211" y="341" width="69" height="9" fill="#e8a070"/>
<rect x="211" y="351" width="69" height="9" fill="#f0b080"/>
<rect x="211" y="361" width="69" height="7" fill="#f0b080"/>
<rect x="282" y="208" width="34" height="7" fill="#f08070"/>
<rect x="282" y="216" width="34" height="8" fill="#f08070"/>
<rect x="282" y="225" width="34" height="8" fill="#f09a78"/>
<rect x="282" y="234" width="34" height="8" fill="#e06a60"/>
<rect x="282" y="243" width="34" height="7" fill="#f09a78"/>
<rect x="282" y="251" width="34" height="9" fill="#f09a78"/>
<rect x="282" y="261" width="34" height="8" fill="#f09a78"/>
<rect x="282" y="270" width="34" height="8" fill="#f08070"/>
<rect x="282" y="279" width="34" height="8" fill="#f08070"/>
<rect x="282" y="288" width="34" height="9" fill="#f08070"/>
<rect x="282" y="298" width="34" height="8" fill="#f08070"/>
<rect x="282" y="307" width="34" height="8" fill="#f08070"/>
<rect x="282" y="316" width="34" height="9" fill="#f08070"/>
<rect x="282" y="326" width="34" height="8" fill="#f08070"/>
<rect x="282" y="335" width="34" height="9" fill="#f08070"/>
<rect x="282" y="345" width="34" height="7" fill="#e06a60"/>
<rect x="282" y="353" width="34" height="7" fill="#e06a60"/>
<rect x="282" y="361" width="34" height="7" fill="#e06a60"/>
<rect x="318" y="208" width="63" height="9" fill="#d05a70"/>
<rect x="318" y="218" width="63" height="7" fill="#c84a68"/>
<rect x="318" y="226" width="63" height="9" fill="#d05a70"/>
<rect x="318" y="236" width="63" height="7" fill="#d05a70"/>
<rect x="318" y="244" width="63" height="8" fill="#d05a70"/>
<rect x="318" y="253" width="63" height="7" fill="#d05a70"/>
<rect x="318" y="261" width="63" height="8" fill="#c84a68"/>
<rect x="318" y="270" width="63" height="8" fill="#c84a68"/>
<rect x="318" y="279" width="63" height="7" fill="#e07088"/>
<rect x="318" y="287" width="63" height="8" fill="#c84a68"/>
<rect x="318" y="296" width="63" height="9" fill="#d05a70"/>
<rect x="318" y="306" width="63" height="8" fill="#e07088"/>
<rect x="318" y="315" width="63" height="7" fill="#e07088"/>
<rect x="318" y="323" width="63" height="7" fill="#d05a70"/>
<rect x="318" y="331" width="63" height="7" fill="#c84a68"/>
<rect x="318" y="339" width="63" height="9" fill="#c84a68"/>
<rect x="318" y="349" width="63" height="7" fill="#c84a68"/>
<rect x="318" y="357" width="63" height="8" fill="#d05a70"/>
<rect x="383" y="214" width="56" height="8" fill="#f09a78"/>
<rect x="383" y="223" width="56" height="8" fill="#f09a78"/>
<rect x="383" y="232" width="56" height="8" fill="#f09a78"/>
<rect x="383" y="241" width="56" height="8" fill="#f09a78"/>
<rect x="383" y="250" width="56" height="7" fill="#f08070"/>
<rect x="383" y="258" width="56" height="8" fill="#f08070"/>
<rect x="383" y="267" width="56" height="9" fill="#f09a78"/>
<rect x="383" y="277" width="56" height="9" fill="#f08070"/>
<rect x="383" y="287" width="56" height="8" fill="#e06a60"/>
<rect x="383" y="296" width="56" height="7" fill="#f08070"/>
<rect x="383" y="304" width="56" height="7" fill="#f08070"/>
<rect x="383" y="312" width="56" height="9" fill="#f09a78"/>
<rect x="383" y="322" width="56" height="8" fill="#e06a60"/>
<rect x="383" y="331" width="56" height="7" fill="#f08070"/>
<rect x="383" y="339" width="56" height="7" fill="#f09a78"/>
<rect x="383" y="347" width="56" height="8" fill="#f09a78"/>
<rect x="383" y="356" width="56" height="9" fill="#e06a60"/>
<rect x="441" y="208" width="66" height="7" fill="#e06a60"/>
<rect x="441" y="216" width="66" height="7" fill="#f08070"/>
<rect x="441" y="224" width="66" height="8" fill="#e06a60"/>
<rect x="441" y="233" width="66" height="7" fill="#e06a60"/>
<rect x="441" y="241" width="66" height="8" fill="#e06a60"/>
<rect x="441" y="250" width="66" height="9" fill="#e06a60"/>
<rect x="441" y="260" width="66" height="7" fill="#f08070"/>
<rect x="441" y="268" width="66" height="8" fill="#f08070"/>
<rect x="441" y="277" width="66" height="8" fill="#f08070"/>
<rect x="441" y="286" width="66" height="7" fill="#e06a60"/>
<rect x="441" y="294" width="66" height="8" fill="#f08070"/>
<rect x="441" y="303" width="66" height="8" fill="#e06a60"/>
<rect x="441" y="312" width="66" height="9" fill="#f09a78"/>
<rect x="441" y="322" width="66" height="7" fill="#f08070"/>
<rect x="441" y="330" width="66" height="9" fill="#f08070"/>
<rect x="441" y="340" width="66" height="7" fill="#e06a60"/>
<rect x="441" y="348" width="66" height="7" fill="#f08070"/>
<rect x="441" y="356" width="66" height="8" fill="#f09a78"/>
<rect x="509" y="208" width="30" height="8" fill="#c84a68"/>
<rect x="509" y="217" width="30" height="7" fill="#d05a70"/>
<rect x="509" y="225" width="30" height="9" fill="#c84a68"/>
<rect x="509" y="235" width="30" height="7" fill="#c84a68"/>
<rect x="509" y="243" width="30" height="9" fill="#c84a68"/>
<rect x="509" y="253" width="30" height="8" fill="#e07088"/>
<rect x="509" y="262" width="30" height="9" fill="#e07088"/>
<rect x="509" y="272" width="30" height="7" fill="#e07088"/>
<rect x="509" y="280" width="30" height="9" fill="#c84a68"/>
<rect x="509" y="290" width="30" height="9" fill="#d05a70"/>
<rect x="509" y="300" width="30" height="7" fill="#c84a68"/>
<rect x="509" y="308" width="30" height="9" fill="#c84a68"/>
<rect x="509" y="318" width="30" height="8" fill="#c84a68"/>
<rect x="509" y="327" width="30" height="9" fill="#c84a68"/>
<rect x="509" y="337" width="30" height="7" fill="#c84a68"/>
<rect x="509" y="345" width="30" height="9" fill="#c84a68"/>
<rect x="509" y="355" width="30" height="7" fill="#c84a68"/>
<rect x="541" y="215" width="65" height="9" fill="#c04050"/>
<rect x="541" y="225" width="65" height="7" fill="#c04050"/>
<rect x="541" y="233" width="65" height="7" fill="#c04050"/>
<rect x="541" y="241" width="65" height="9" fill="#b03848"/>
<rect x="541" y="251" width="65" height="7" fill="#b03848"/>
<rect x="541" y="259" width="65" height="8" fill="#c04050"/>
<rect x="541" y="268" width="65" height="9" fill="#c04050"/>
<rect x="541" y="278" width="65" height="9" fill="#c04050"/>
<rect x="541" y="288" width="65" height="8" fill="#b03848"/>
<rect x="541" y="297" width="65" height="7" fill="#b03848"/>
<rect x="541" y="305" width="65" height="7" fill="#c04050"/>
<rect x="541" y="313" width="65" height="9" fill="#c04050"/>
<rect x="541" y="323" width="65" height="9" fill="#b03848"/>
<rect x="541" y="333" width="65" height="8" fill="#c04050"/>
<rect x="541" y="342" width="65" height="8" fill="#c04050"/>
<rect x="541" y="351" width="65" height="9" fill="#c04050"/>
<rect x="541" y="361" width="65" height="7" fill="#b03848"/>
<rect x="608" y="205" width="59" height="8" fill="#b03848"/>
<rect x="608" y="214" width="59" height="7" fill="#c04050"/>
<rect x="608" y="222" width="59" height="7" fill="#c04050"/>
<rect x="608" y="230" width="59" height="8" fill="#b03848"/>
<rect x="608" y="239" width="59" height="9" fill="#b03848"/>
<rect x="608" y="249" width="59" height="9" fill="#c04050"/>
<rect x="608" y="259" width="59" height="7" fill="#b03848"/>
<rect x="608" y="267" width="59" height="7" fill="#b03848"/>
<rect x="608" y="275" width="59" height="8" fill="#c04050"/>
<rect x="608" y="284" width="59" height="9" fill="#c04050"/>
<rect x="608" y="294" width="59" height="9" fill="#b03848"/>
<rect x="608" y="304" width="59" height="8" fill="#b03848"/>
<rect x="608" y="313" width="59" height="8" fill="#b03848"/>
<rect x="608" y="322" width="59" height="8" fill="#c04050"/>
<rect x="608" y="331" width="59" height="9" fill="#c04050"/>
<rect x="608" y="341" width="59" height="8" fill="#c04050"/>
<rect x="608" y="350" width="59" height="8" fill="#c04050"/>
<rect x="608" y="359" width="59" height="8" fill="#b03848"/>
<rect x="669" y="256" width="32" height="8" fill="#b03848"/>
<rect x="669" y="265" width="32" height="7" fill="#c04050"/>
<rect x="669" y="273" width="32" height="7" fill="#c04050"/>
<rect x="669" y="281" width="32" height="7" fill="#b03848"/>
<rect x="669" y="289" width="32" height="8" fill="#c04050"/>
<rect x="669" y="298" width="32" height="9" fill="#b03848"/>
<rect x="669" y="308" width="32" height="7" fill="#b03848"/>
<rect x="669" y="316" width="32" height="7" fill="#b03848"/>
<rect x="669" y="324" width="32" height="8" fill="#b03848"/>
<rect x="669" y="333" width="32" height="7" fill="#c04050"/>
<rect x="669" y="341" width="32" height="7" fill="#b03848"/>
<rect x="669" y="349" width="32" height="9" fill="#b03848"/>
<rect x="669" y="359" width="32" height="8" fill="#b03848"/>
<rect x="703" y="250" width="74" height="8" fill="#e06a60"/>
<rect x="703" y="259" width="74" height="7" fill="#e06a60"/>
<rect x="703" y="267" width="74" height="7" fill="#e06a60"/>
<rect x="703" y="275" width="74" height="8" fill="#e06a60"/>
<rect x="703" y="284" width="74" height="7" fill="#f08070"/>
<rect x="703" y="292" width="74" height="9" fill="#f08070"/>
<rect x="703" y="302" width="74" height="9" fill="#e06a60"/>
<rect x="703" y="312" width="74" height="8" fill="#e06a60"/>
<rect x="703" y="321" width="74" height="7" fill="#e06a60"/>
<rect x="703" y="329" width="74" height="8" fill="#f09a78"/>
<rect x="703" y="338" width="74" height="7" fill="#e06a60"/>
<rect x="703" y="346" width="74" height="8" fill="#e06a60"/>
<rect x="703" y="355" width="74" height="7" fill="#e06a60"/>
<rect x="779" y="246" width="34" height="9" fill="#f08070"/>
<rect x="779" y="256" width="34" height="7" fill="#e06a60"/>
<rect x="779" y="264" width="34" height="8" fill="#f09a78"/>
<rect x="779" y="273" width="34" height="8" fill="#f08070"/>
<rect x="779" y="282" width="34" height="8" fill="#e06a60"/>
<rect x="779" y="291" width="34" height="7" fill="#f09a78"/>
<rect x="779" y="299" width="34" height="8" fill="#f09a78"/>
<rect x="779" y="308" width="34" height="9" fill="#f08070"/>
<rect x="779" y="318" width="34" height="9" fill="#f08070"/>
<rect x="779" y="328" width="34" height="7" fill="#f09a78"/>
<rect x="779" y="336" width="34" height="8" fill="#e06a60"/>
<rect x="779" y="345" width="34" height="9" fill="#f08070"/>
<rect x="779" y="355" width="34" height="9" fill="#e06a60"/>
<rect x="815" y="236" width="59" height="7" fill="#e06a60"/>
<rect x="815" y="244" width="59" height="8" fill="#e06a60"/>
<rect x="815" y="253" width="59" height="8" fill="#e06a60"/>
<rect x="815" y="262" width="59" height="8" fill="#f09a78"/>
<rect x="815" y="271" width="59" height="9" fill="#f09a78"/>
<rect x="815" y="281" width="59" height="8" fill="#e06a60"/>
<rect x="815" y="290" width="59" height="9" fill="#f08070"/>
<rect x="815" y="300" width="59" height="8" fill="#e06a60"/>
<rect x="815" y="309" width="59" height="9" fill="#f09a78"/>
<rect x="815" y="319" width="59" height="8" fill="#f08070"/>
<rect x="815" y="328" width="59" height="7" fill="#f09a78"/>
<rect x="815" y="336" width="59" height="7" fill="#f08070"/>
<rect x="815" y="344" width="59" height="7" fill="#f09a78"/>
<rect x="815" y="352" width="59" height="8" fill="#f09a78"/>
<rect x="815" y="361" width="59" height="7" fill="#e06a60"/>
<rect x="876" y="256" width="49" height="8" fill="#3a8a98"/>
<rect x="876" y="265" width="49" height="9" fill="#3a8a98"/>
<rect x="876" y="275" width="49" height="7" fill="#3a8a98"/>
<rect x="876" y="283" width="49" height="7" fill="#4a9aa8"/>
<rect x="876" y="291" width="49" height="9" fill="#3a8a98"/>
<rect x="876" y="301" width="49" height="8" fill="#3a8a98"/>
<rect x="876" y="310" width="49" height="8" fill="#4a9aa8"/>
<rect x="876" y="319" width="49" height="9" fill="#3a8a98"/>
<rect x="876" y="329" width="49" height="7" fill="#4a9aa8"/>
<rect x="876" y="337" width="49" height="8" fill="#4a9aa8"/>
<rect x="876" y="346" width="49" height="9" fill="#3a8a98"/>
<rect x="876" y="356" width="49" height="8" fill="#4a9aa8"/>
<rect x="927" y="259" width="49" height="8" fill="#d8d0c8"/>
<rect x="927" y="268" width="49" height="7" fill="#e8e0d8"/>
<rect x="927" y="276" width="49" height="7" fill="#d8d0c8"/>
<rect x="927" y="284" width="49" height="7" fill="#d8d0c8"/>
<rect x="927" y="292" width="49" height="8" fill="#d8d0c8"/>
<rect x="927" y="301" width="49" height="8" fill="#d8d0c8"/>
<rect x="927" y="310" width="49" height="7" fill="#e8e0d8"/>
<rect x="927" y="318" width="49" height="7" fill="#d8d0c8"/>
<rect x="927" y="326" width="49" height="9" fill="#d8d0c8"/>
<rect x="927" y="336" width="49" height="9" fill="#d8d0c8"/>
<rect x="927" y="346" width="49" height="7" fill="#e8e0d8"/>
<rect x="927" y="354" width="49" height="8" fill="#d8d0c8"/>
<rect x="978" y="234" width="56" height="7" fill="#f08070"/>
<rect x="978" y="242" width="56" height="7" fill="#f09a78"/>
<rect x="978" y="250" width="56" height="9" fill="#f08070"/>
<rect x="978" y="260" width="56" height="9" fill="#f09a78"/>
<rect x="978" y="270" width="56" height="9" fill="#e06a60"/>
<rect x="978" y="280" width="56" height="7" fill="#f09a78"/>
<rect x="978" y="288" width="56" height="7" fill="#f08070"/>
<rect x="978" y="296" width="56" height="7" fill="#f08070"/>
<rect x="978" y="304" width="56" height="9" fill="#f08070"/>
<rect x="978" y="314" width="56" height="9" fill="#f09a78"/>
<rect x="978" y="324" width="56" height="8" fill="#f08070"/>
<rect x="978" y="333" width="56" height="9" fill="#e06a60"/>
<rect x="978" y="343" width="56" height="9" fill="#f09a78"/>
<rect x="978" y="353" width="56" height="8" fill="#f09a78"/>
<rect x="161" y="197" width="31" height="72" fill="#f4f0f8"/>
<rect x="590" y="300" width="150" height="50" fill="#a4a8bc"/>
<rect x="650" y="330" width="150" height="25" fill="#c8b040" opacity="0.8"/>
<rect x="500" y="300" width="60" height="45" fill="#c05a78"/>
<rect x="836" y="326" width="20" height="21" fill="#b83a44"/>
<rect x="857" y="326" width="26" height="29" fill="#8a3a6a"/>
<rect x="884" y="326" width="23" height="24" fill="#d87a3a"/>
<rect x="908" y="326" width="24" height="29" fill="#c85060"/>
<rect x="933" y="326" width="17" height="28" fill="#b83a44"/>
<rect x="951" y="326" width="26" height="24" fill="#d87a3a"/>
<rect x="978" y="326" width="27" height="23" fill="#4a6ab0"/>
<rect x="500" y="326" width="60" height="22" fill="#c65a78"/>
<rect x="585" y="326" width="175" height="16" fill="#9ea4bc"/>
<rect x="640" y="336" width="190" height="16" fill="#b8a040"/>
<circle cx="650" cy="340" r="6" fill="#d8c050"/>
<circle cx="680" cy="340" r="6" fill="#d8c050"/>
<circle cx="700" cy="340" r="6" fill="#d8c050"/>
<circle cx="730" cy="340" r="6" fill="#d8c050"/>
<circle cx="760" cy="340" r="6" fill="#d8c050"/>
<circle cx="790" cy="340" r="6" fill="#d8c050"/>
</g>
<path d="M128,270 L264,298 L374,325 L450,347 L500,351 L833,355 L815,385 L800,406 L773,444 L762,476 L700,476 L614,452 L500,433 L428,416 L346,399 L264,372 L182,333 L171,322 Z" fill="url(#hull)"/>
<path d="M450,347 L500,351 L833,355 L828,364 L700,366 L500,364 L450,358 Z" fill="#d6d2c8"/>
<path d="M165,314 L264,351 L346,379 L428,397 L500,408 L614,428 L700,440 L756,449 L772,455 L764,476 L700,476 L614,452 L500,433 L428,416 L346,400 L264,374 L183,335 Z" fill="url(#redst)"/>
<path d="M165,314 L264,351 L346,379 L428,397 L500,408 L614,428 L612,433 L500,414 L428,404 L346,387 L264,360 L175,322 Z" fill="#ff7a80" opacity="0.45"/>
</g>
<rect x="0" y="195.5" width="1000" height="130.5" fill="#34349a" opacity="0.6"/>
<text x="209.6" y="247.5" font-size="35" fill="#fff" font-weight="bold" text-anchor="start" textLength="612.4" lengthAdjust="spacingAndGlyphs">BỨC TRANH KINH TẾ QUÝ I/2022:</text>
<text x="313.5" y="290.0" font-size="35" fill="#fff" font-weight="bold" text-anchor="start" textLength="411.5" lengthAdjust="spacingAndGlyphs">TỪNG BƯỚC HỒI PHỤC</text>
<rect x="115" y="501" width="257.5" height="31" rx="5" fill="#2e3192"/>
<text x="122.6" y="522.0" font-size="20" fill="#fff" font-weight="bold" text-anchor="start" textLength="238.0" lengthAdjust="spacingAndGlyphs">GDP quý I qua các năm</text>
<rect x="105" y="1049.3" width="256.6" height="31.200000000000045" rx="5" fill="#2e3192"/>
<text x="111.3" y="1071.0" font-size="20" fill="#fff" font-weight="bold" text-anchor="start" textLength="233.7" lengthAdjust="spacingAndGlyphs">Cơ cấu GDP quý I/2022</text>
<rect x="85.8" y="1508.2" width="314.5" height="30.59999999999991" rx="5" fill="#2e3192"/>
<text x="92.5" y="1528.5" font-size="20" fill="#fff" font-weight="bold" text-anchor="start" textLength="294.9" lengthAdjust="spacingAndGlyphs">Kim ngạch xuất - nhập khẩu</text>
<rect x="86" y="1840.3" width="250.7" height="30.700000000000045" rx="5" fill="#2e3192"/>
<text x="92.6" y="1861.6" font-size="20" fill="#fff" font-weight="bold" text-anchor="start" textLength="227.7" lengthAdjust="spacingAndGlyphs">Sản xuất công nghiệp</text>
<rect x="68.9" y="2381" width="251.1" height="30.90000000000009" rx="5" fill="#2e3192"/>
<text x="93.1" y="2402.0" font-size="20" fill="#fff" font-weight="bold" text-anchor="start" textLength="199.9" lengthAdjust="spacingAndGlyphs">Thu hút vốn đầu tư</text>
<rect x="61" y="2997.2" width="275.4" height="31.200000000000273" rx="5" fill="#2e3192"/>
<text x="84.9" y="3018.5" font-size="20" fill="#fff" font-weight="bold" text-anchor="start" textLength="229.8" lengthAdjust="spacingAndGlyphs">CPI quý I qua các năm</text>
<rect x="824" y="3496.3" width="120.5" height="35" rx="6" fill="#2e3192"/>
<text x="830.0" y="3511.6" font-size="16" fill="#fff" font-weight="bold" text-anchor="start" textLength="106.0" lengthAdjust="spacingAndGlyphs">congthuong.vn</text>
<polyline fill="none" stroke="#111" stroke-width="1.3" points="163.7,755.4 233.2,838.2 302.7,837.5 372.2,815.9 441.7,739.6 511.2,785.6 580.7,809.4 650.2,643.8 719.7,687.0 789.2,916.7 858.7,840.4 928.2,818.0"/>
<circle cx="163.7" cy="755.4" r="8" fill="#2e3192"/>
<circle cx="233.2" cy="838.2" r="8" fill="#2e3192"/>
<circle cx="302.7" cy="837.5" r="8" fill="#2e3192"/>
<circle cx="372.2" cy="815.9" r="8" fill="#2e3192"/>
<circle cx="441.7" cy="739.6" r="8" fill="#2e3192"/>
<circle cx="511.2" cy="785.6" r="8" fill="#2e3192"/>
<circle cx="580.7" cy="809.4" r="8" fill="#2e3192"/>
<circle cx="650.2" cy="643.8" r="8" fill="#2e3192"/>
<circle cx="719.7" cy="687.0" r="8" fill="#2e3192"/>
<circle cx="789.2" cy="916.7" r="8" fill="#2e3192"/>
<circle cx="858.7" cy="840.4" r="8" fill="#2e3192"/>
<circle cx="928.2" cy="818.0" r="8" fill="#2e3192"/>
<text x="148.6" y="730.6" font-size="13" fill="#000" font-weight="bold" text-anchor="start" textLength="30.1" lengthAdjust="spacingAndGlyphs">5,9%</text>
<text x="223.0" y="817.5" font-size="13" fill="#000" font-weight="bold" text-anchor="start" textLength="36.4" lengthAdjust="spacingAndGlyphs">4,75%</text>
<text x="286.0" y="820.0" font-size="13" fill="#000" font-weight="bold" text-anchor="start" textLength="37.0" lengthAdjust="spacingAndGlyphs">4,76%</text>
<text x="347.6" y="801.0" font-size="13" fill="#000" font-weight="bold" text-anchor="start" textLength="39.7" lengthAdjust="spacingAndGlyphs">5,06%</text>
<text x="426.0" y="721.7" font-size="13" fill="#000" font-weight="bold" text-anchor="start" textLength="36.5" lengthAdjust="spacingAndGlyphs">6,12%</text>
<text x="503.5" y="770.2" font-size="13" fill="#000" font-weight="bold" text-anchor="start" textLength="38.0" lengthAdjust="spacingAndGlyphs">5,48%</text>
<text x="565.7" y="832.6" font-size="13" fill="#000" font-weight="bold" text-anchor="start" textLength="35.3" lengthAdjust="spacingAndGlyphs">5,15%</text>
<text x="634.0" y="630.8" font-size="13" fill="#000" font-weight="bold" text-anchor="start" textLength="37.7" lengthAdjust="spacingAndGlyphs">7,45%</text>
<text x="717.5" y="673.2" font-size="13" fill="#000" font-weight="bold" text-anchor="start" textLength="38.3" lengthAdjust="spacingAndGlyphs">6,85%</text>
<text x="770.9" y="940.6" font-size="13" fill="#000" font-weight="bold" text-anchor="start" textLength="38.3" lengthAdjust="spacingAndGlyphs">3,66%</text>
<text x="840.6" y="822.3" font-size="13" fill="#000" font-weight="bold" text-anchor="start" textLength="37.6" lengthAdjust="spacingAndGlyphs">4,72%</text>
<text x="917.2" y="802.5" font-size="13" fill="#000" font-weight="bold" text-anchor="start" textLength="38.3" lengthAdjust="spacingAndGlyphs">5,03%</text>
<line x1="129.6" y1="965" x2="963.3" y2="965" stroke="#808080" stroke-width="1.2"/>
<line x1="129.6" y1="956" x2="129.6" y2="965.5" stroke="#808080" stroke-width="1.1"/>
<line x1="199.1" y1="956" x2="199.1" y2="965.5" stroke="#808080" stroke-width="1.1"/>
<line x1="268.5" y1="956" x2="268.5" y2="965.5" stroke="#808080" stroke-width="1.1"/>
<line x1="338.0" y1="956" x2="338.0" y2="965.5" stroke="#808080" stroke-width="1.1"/>
<line x1="407.5" y1="956" x2="407.5" y2="965.5" stroke="#808080" stroke-width="1.1"/>
<line x1="477.0" y1="956" x2="477.0" y2="965.5" stroke="#808080" stroke-width="1.1"/>
<line x1="546.4" y1="956" x2="546.4" y2="965.5" stroke="#808080" stroke-width="1.1"/>
<line x1="615.9" y1="956" x2="615.9" y2="965.5" stroke="#808080" stroke-width="1.1"/>
<line x1="685.4" y1="956" x2="685.4" y2="965.5" stroke="#808080" stroke-width="1.1"/>
<line x1="754.9" y1="956" x2="754.9" y2="965.5" stroke="#808080" stroke-width="1.1"/>
<line x1="824.4" y1="956" x2="824.4" y2="965.5" stroke="#808080" stroke-width="1.1"/>
<line x1="893.8" y1="956" x2="893.8" y2="965.5" stroke="#808080" stroke-width="1.1"/>
<line x1="963.3" y1="956" x2="963.3" y2="965.5" stroke="#808080" stroke-width="1.1"/>
<text x="159.0" y="981.0" font-size="13.5" fill="#000" font-weight="bold" text-anchor="middle" textLength="31.0" lengthAdjust="spacingAndGlyphs">2011</text>
<text x="229.4" y="981.0" font-size="13.5" fill="#000" font-weight="bold" text-anchor="middle" textLength="31.0" lengthAdjust="spacingAndGlyphs">2012</text>
<text x="299.9" y="981.0" font-size="13.5" fill="#000" font-weight="bold" text-anchor="middle" textLength="31.0" lengthAdjust="spacingAndGlyphs">2013</text>
<text x="370.4" y="981.0" font-size="13.5" fill="#000" font-weight="bold" text-anchor="middle" textLength="31.0" lengthAdjust="spacingAndGlyphs">2014</text>
<text x="440.8" y="981.0" font-size="13.5" fill="#000" font-weight="bold" text-anchor="middle" textLength="31.0" lengthAdjust="spacingAndGlyphs">2015</text>
<text x="511.2" y="981.0" font-size="13.5" fill="#000" font-weight="bold" text-anchor="middle" textLength="31.0" lengthAdjust="spacingAndGlyphs">2016</text>
<text x="581.7" y="981.0" font-size="13.5" fill="#000" font-weight="bold" text-anchor="middle" textLength="31.0" lengthAdjust="spacingAndGlyphs">2017</text>
<text x="652.2" y="981.0" font-size="13.5" fill="#000" font-weight="bold" text-anchor="middle" textLength="31.0" lengthAdjust="spacingAndGlyphs">2018</text>
<text x="722.6" y="981.0" font-size="13.5" fill="#000" font-weight="bold" text-anchor="middle" textLength="31.0" lengthAdjust="spacingAndGlyphs">2019</text>
<text x="793.1" y="981.0" font-size="13.5" fill="#000" font-weight="bold" text-anchor="middle" textLength="31.0" lengthAdjust="spacingAndGlyphs">2020</text>
<text x="863.5" y="981.0" font-size="13.5" fill="#000" font-weight="bold" text-anchor="middle" textLength="31.0" lengthAdjust="spacingAndGlyphs">2021</text>
<text x="934.0" y="981.0" font-size="13.5" fill="#000" font-weight="bold" text-anchor="middle" textLength="31.0" lengthAdjust="spacingAndGlyphs">2022</text>
<path d="M411.8,1304.3 L411.80,1205.90 A98.4,98.4 0 0 1 474.23,1228.24 Z" fill="#fff200"/>
<path d="M411.8,1304.3 L498.72,1198.41 A137,137 0 0 1 421.19,1440.98 Z" fill="#c1272d"/>
<path d="M411.8,1304.3 L421.12,1439.98 A136,136 0 0 1 336.14,1191.29 Z" fill="#2e3192"/>
<path d="M411.8,1304.3 L347.10,1207.66 A116.3,116.3 0 0 1 411.80,1188.00 Z" fill="#39b54a"/>
<line x1="367.2" y1="1169.8" x2="367.2" y2="1195" stroke="#39b54a" stroke-width="1.3"/>
<line x1="453.5" y1="1196.3" x2="453.5" y2="1213.7" stroke="#fff200" stroke-width="1.3"/>
<text x="336.8" y="1159.9" font-size="13" fill="#000" font-weight="bold" text-anchor="start" textLength="46.5" lengthAdjust="spacingAndGlyphs">10,94%</text>
<text x="438.2" y="1189.3" font-size="13" fill="#000" font-weight="bold" text-anchor="start" textLength="38.2" lengthAdjust="spacingAndGlyphs">9,39%</text>
<text x="305.8" y="1341.2" font-size="13" fill="#fff" font-weight="bold" text-anchor="start" textLength="34.8" lengthAdjust="spacingAndGlyphs">41,7%</text>
<text x="443.2" y="1341.2" font-size="13" fill="#fff" font-weight="bold" text-anchor="start" textLength="44.5" lengthAdjust="spacingAndGlyphs">37,97%</text>
<circle cx="654.9" cy="1245.1" r="5.9" fill="#39b54a"/>
<text x="685.3" y="1247.8" font-size="12.8" fill="#000" font-weight="bold" text-anchor="start" textLength="203.3" lengthAdjust="spacingAndGlyphs">Nông, lâm nghiệp và thuỷ sản</text>
<circle cx="654.9" cy="1277.6" r="5.9" fill="#2e3192"/>
<text x="685.3" y="1283.1" font-size="12.8" fill="#000" font-weight="bold" text-anchor="start" textLength="51.3" lengthAdjust="spacingAndGlyphs">Dịch vụ</text>
<circle cx="654.9" cy="1308.4" r="5.9" fill="#c1272d"/>
<text x="685.3" y="1313.0" font-size="12.8" fill="#000" font-weight="bold" text-anchor="start" textLength="176.9" lengthAdjust="spacingAndGlyphs">Công nghiệp và xây dựng</text>
<circle cx="654.9" cy="1341.9" r="5.9" fill="#fff200"/>
<text x="685.3" y="1347.0" font-size="12.8" fill="#000" font-weight="bold" text-anchor="start" textLength="259.2" lengthAdjust="spacingAndGlyphs">Thuế sản phẩm trừ trợ cấp sản phẩm</text>
<text x="403.4" y="1552.9" font-size="13" fill="#000" font-weight="bold" text-anchor="start" textLength="104.2" lengthAdjust="spacingAndGlyphs">(đơn vị: tỷ USD)</text>
<rect x="211.5" y="1624.8" width="320.5" height="52.9" fill="#2e3192"/>
<rect x="560.6" y="1625" width="309.4" height="52.7" fill="#2e3192"/>
<rect x="170.1" y="1721.2" width="361.8" height="53" fill="#2e3192"/>
<rect x="560.1" y="1721.2" width="358.7" height="53" fill="#2e3192"/>
<text x="224.6" y="1655.6" font-size="13" fill="#fff" font-weight="bold" text-anchor="start" textLength="34.2" lengthAdjust="spacingAndGlyphs">78,47</text>
<text x="818.3" y="1655.8" font-size="13" fill="#fff" font-weight="bold" text-anchor="start" textLength="32.2" lengthAdjust="spacingAndGlyphs">75,71</text>
<text x="194.9" y="1751.9" font-size="13" fill="#fff" font-weight="bold" text-anchor="start" textLength="36.1" lengthAdjust="spacingAndGlyphs">88,58</text>
<text x="862.0" y="1751.9" font-size="13" fill="#fff" font-weight="bold" text-anchor="start" textLength="33.6" lengthAdjust="spacingAndGlyphs">87,77</text>
<text x="505.4" y="1700.5" font-size="12.5" fill="#000" font-weight="bold" text-anchor="start" textLength="66.3" lengthAdjust="spacingAndGlyphs">Năm 2021</text>
<line x1="135.3" y1="1680.5" x2="146" y2="1680.5" stroke="#d4d4e6" stroke-width="1"/>
<line x1="135.3" y1="1828.3" x2="146" y2="1828.3" stroke="#d4d4e6" stroke-width="1"/>
<text x="505.6" y="1808.8" font-size="12.5" fill="#000" font-weight="bold" text-anchor="start" textLength="68.3" lengthAdjust="spacingAndGlyphs">Năm 2022</text>
<defs><linearGradient id="cg" x1="0" y1="0" x2="1" y2="0"><stop offset="0" stop-color="#ffffff"/><stop offset="0.35" stop-color="#b4b5da"/><stop offset="0.7" stop-color="#7072b4"/><stop offset="1" stop-color="#2e3192"/></linearGradient></defs>
<circle cx="199.7" cy="1985.7" r="76" fill="url(#cg)"/>
<text x="159.2" y="1970.0" font-size="13.5" fill="#000" font-weight="bold" text-anchor="start" textLength="88.7" lengthAdjust="spacingAndGlyphs">Công nghiệp</text>
<text x="147.7" y="1984.3" font-size="13.5" fill="#000" font-weight="bold" text-anchor="start" textLength="115.5" lengthAdjust="spacingAndGlyphs">chế biến, chế tạo</text>
<text x="161.0" y="2021.2" font-size="26" fill="#c1272d" font-weight="normal" text-anchor="start" textLength="14.0" lengthAdjust="spacingAndGlyphs">+</text>
<text x="176.5" y="2024.2" font-size="30" fill="#c1272d" font-weight="bold" text-anchor="start" textLength="92.3" lengthAdjust="spacingAndGlyphs">7,79%</text>
<circle cx="803.7" cy="1985.5" r="75.5" fill="url(#cg)"/>
<text x="750.0" y="1969.3" font-size="13.5" fill="#000" font-weight="bold" text-anchor="start" textLength="105.0" lengthAdjust="spacingAndGlyphs">Cung cấp nước</text>
<text x="728.2" y="1983.0" font-size="13.5" fill="#000" font-weight="bold" text-anchor="start" textLength="147.8" lengthAdjust="spacingAndGlyphs">và hoạt động quản lý,</text>
<text x="735.6" y="1998.0" font-size="13.5" fill="#000" font-weight="bold" text-anchor="start" textLength="132.7" lengthAdjust="spacingAndGlyphs">xử lý rác, nước thải</text>
<text x="745.0" y="2030.6" font-size="26" fill="#c1272d" font-weight="normal" text-anchor="start" textLength="14.0" lengthAdjust="spacingAndGlyphs">+</text>
<text x="760.5" y="2033.6" font-size="30" fill="#c1272d" font-weight="bold" text-anchor="start" textLength="96.0" lengthAdjust="spacingAndGlyphs">6,54%</text>
<circle cx="504.5" cy="2105" r="102.5" fill="url(#cg)"/>
<text x="442.9" y="2090.0" font-size="13.5" fill="#000" font-weight="bold" text-anchor="start" textLength="118.6" lengthAdjust="spacingAndGlyphs">Giá trị tăng thêm</text>
<text x="464.6" y="2104.3" font-size="13.5" fill="#000" font-weight="bold" text-anchor="start" textLength="79.0" lengthAdjust="spacingAndGlyphs">toàn ngành</text>
<text x="461.7" y="2151.6" font-size="26" fill="#c1272d" font-weight="normal" text-anchor="start" textLength="14.0" lengthAdjust="spacingAndGlyphs">+</text>
<text x="477.2" y="2154.6" font-size="30" fill="#c1272d" font-weight="bold" text-anchor="start" textLength="94.7" lengthAdjust="spacingAndGlyphs">7,07%</text>
<circle cx="199.5" cy="2222.3" r="76" fill="url(#cg)"/>
<text x="159.2" y="2203.4" font-size="13.5" fill="#000" font-weight="bold" text-anchor="start" textLength="78.8" lengthAdjust="spacingAndGlyphs">Sản xuất và</text>
<text x="145.7" y="2218.2" font-size="13.5" fill="#000" font-weight="bold" text-anchor="start" textLength="106.6" lengthAdjust="spacingAndGlyphs">phân phối điện</text>
<text x="145.7" y="2256.3" font-size="26" fill="#c1272d" font-weight="normal" text-anchor="start" textLength="14.0" lengthAdjust="spacingAndGlyphs">+</text>
<text x="161.2" y="2259.3" font-size="30" fill="#c1272d" font-weight="bold" text-anchor="start" textLength="92.8" lengthAdjust="spacingAndGlyphs">7,42%</text>
<circle cx="803.3" cy="2222.3" r="76" fill="url(#cg)"/>
<text x="761.2" y="2203.9" font-size="13.5" fill="#000" font-weight="bold" text-anchor="start" textLength="88.4" lengthAdjust="spacingAndGlyphs">Khai khoáng</text>
<text x="753.0" y="2249.4" font-size="26" fill="#c1272d" font-weight="normal" text-anchor="start" textLength="14.0" lengthAdjust="spacingAndGlyphs">+</text>
<text x="768.5" y="2252.4" font-size="30" fill="#c1272d" font-weight="bold" text-anchor="start" textLength="89.2" lengthAdjust="spacingAndGlyphs">1,23%</text>
<line x1="172.6" y1="2507.8" x2="172.6" y2="2873.6" stroke="#555" stroke-width="1"/>
<rect x="173" y="2516.3" width="405.9" height="43.8" fill="#2e3192"/>
<text x="542.4" y="2540.0" font-size="13" fill="#fff" font-weight="bold" text-anchor="start" textLength="23.3" lengthAdjust="spacingAndGlyphs">7,71</text>
<text x="92.4" y="2540.6" font-size="13.5" fill="#000" font-weight="bold" text-anchor="start" textLength="31.0" lengthAdjust="spacingAndGlyphs">2017</text>
<rect x="173" y="2577" width="305.4" height="43.8" fill="#2e3192"/>
<text x="442.6" y="2604.0" font-size="13" fill="#fff" font-weight="bold" text-anchor="start" textLength="19.4" lengthAdjust="spacingAndGlyphs">5,8</text>
<text x="92.4" y="2604.4" font-size="13.5" fill="#000" font-weight="bold" text-anchor="start" textLength="31.0" lengthAdjust="spacingAndGlyphs">2018</text>
<rect x="173" y="2638.3" width="476.5" height="43.8" fill="#2e3192"/>
<text x="608.7" y="2662.5" font-size="13" fill="#fff" font-weight="bold" text-anchor="start" textLength="26.3" lengthAdjust="spacingAndGlyphs">10,8</text>
<text x="92.4" y="2665.1" font-size="13.5" fill="#000" font-weight="bold" text-anchor="start" textLength="31.0" lengthAdjust="spacingAndGlyphs">2019</text>
<rect x="173" y="2699.3" width="450.5" height="43.8" fill="#2e3192"/>
<text x="586.0" y="2726.5" font-size="13" fill="#fff" font-weight="bold" text-anchor="start" textLength="26.4" lengthAdjust="spacingAndGlyphs">8,55</text>
<text x="92.4" y="2726.7" font-size="13.5" fill="#000" font-weight="bold" text-anchor="start" textLength="31.0" lengthAdjust="spacingAndGlyphs">2020</text>
<rect x="173" y="2760.4" width="441.0" height="43.8" fill="#2e3192"/>
<text x="571.6" y="2786.6" font-size="13" fill="#fff" font-weight="bold" text-anchor="start" textLength="31.9" lengthAdjust="spacingAndGlyphs">10,13</text>
<text x="92.4" y="2786.9" font-size="13.5" fill="#000" font-weight="bold" text-anchor="start" textLength="31.0" lengthAdjust="spacingAndGlyphs">2021</text>
<rect x="173" y="2821.4" width="469.6" height="43.8" fill="#2e3192"/>
<text x="596.0" y="2848.0" font-size="13" fill="#fff" font-weight="bold" text-anchor="start" textLength="25.5" lengthAdjust="spacingAndGlyphs">8,91</text>
<text x="92.4" y="2847.9" font-size="13.5" fill="#000" font-weight="bold" text-anchor="start" textLength="31.0" lengthAdjust="spacingAndGlyphs">2022</text>
<rect x="145.4" y="3139.3" width="49" height="289.3" fill="#2e3192"/>
<text x="152.0" y="3125.4" font-size="13" fill="#000" font-weight="bold" text-anchor="start" textLength="43.9" lengthAdjust="spacingAndGlyphs">15,95%</text>
<text x="149.5" y="3454.2" font-size="13.5" fill="#000" font-weight="bold" text-anchor="start" textLength="32.1" lengthAdjust="spacingAndGlyphs">2012</text>
<rect x="213.6" y="3303.3" width="49" height="125.3" fill="#2e3192"/>
<text x="222.6" y="3293.7" font-size="13" fill="#000" font-weight="bold" text-anchor="start" textLength="36.1" lengthAdjust="spacingAndGlyphs">6,91%</text>
<text x="215.6" y="3454.2" font-size="13.5" fill="#000" font-weight="bold" text-anchor="start" textLength="30.8" lengthAdjust="spacingAndGlyphs">2013</text>
<rect x="281.8" y="3341.0" width="49" height="87.6" fill="#2e3192"/>
<text x="291.1" y="3337.2" font-size="13" fill="#000" font-weight="bold" text-anchor="start" textLength="38.2" lengthAdjust="spacingAndGlyphs">4,83%</text>
<text x="285.4" y="3454.2" font-size="13.5" fill="#000" font-weight="bold" text-anchor="start" textLength="31.6" lengthAdjust="spacingAndGlyphs">2014</text>
<rect x="350.0" y="3415.2" width="49" height="13.4" fill="#2e3192"/>
<text x="355.0" y="3409.2" font-size="13" fill="#000" font-weight="bold" text-anchor="start" textLength="40.0" lengthAdjust="spacingAndGlyphs">0,74%</text>
<text x="353.0" y="3454.2" font-size="13.5" fill="#000" font-weight="bold" text-anchor="start" textLength="31.7" lengthAdjust="spacingAndGlyphs">2015</text>
<rect x="418.2" y="3405.9" width="49" height="22.7" fill="#2e3192"/>
<text x="425.4" y="3399.0" font-size="13" fill="#000" font-weight="bold" text-anchor="start" textLength="36.2" lengthAdjust="spacingAndGlyphs">1,25%</text>
<text x="425.9" y="3454.2" font-size="13.5" fill="#000" font-weight="bold" text-anchor="start" textLength="32.4" lengthAdjust="spacingAndGlyphs">2016</text>
<rect x="486.4" y="3338.6" width="49" height="90.0" fill="#2e3192"/>
<text x="495.2" y="3332.5" font-size="13" fill="#000" font-weight="bold" text-anchor="start" textLength="39.0" lengthAdjust="spacingAndGlyphs">4,96%</text>
<text x="495.2" y="3454.2" font-size="13.5" fill="#000" font-weight="bold" text-anchor="start" textLength="31.2" lengthAdjust="spacingAndGlyphs">2017</text>
<rect x="554.6" y="3377.4" width="49" height="51.2" fill="#2e3192"/>
<text x="560.9" y="3372.7" font-size="13" fill="#000" font-weight="bold" text-anchor="start" textLength="38.5" lengthAdjust="spacingAndGlyphs">2,82%</text>
<text x="560.9" y="3454.2" font-size="13.5" fill="#000" font-weight="bold" text-anchor="start" textLength="32.0" lengthAdjust="spacingAndGlyphs">2018</text>
<rect x="622.8" y="3380.9" width="49" height="47.7" fill="#2e3192"/>
<text x="632.3" y="3376.4" font-size="13" fill="#000" font-weight="bold" text-anchor="start" textLength="37.7" lengthAdjust="spacingAndGlyphs">2,63%</text>
<text x="632.3" y="3454.2" font-size="13.5" fill="#000" font-weight="bold" text-anchor="start" textLength="32.4" lengthAdjust="spacingAndGlyphs">2019</text>
<rect x="691.0" y="3327.7" width="49" height="100.9" fill="#2e3192"/>
<text x="698.2" y="3319.0" font-size="13" fill="#000" font-weight="bold" text-anchor="start" textLength="37.7" lengthAdjust="spacingAndGlyphs">5,56%</text>
<text x="699.0" y="3454.2" font-size="13.5" fill="#000" font-weight="bold" text-anchor="start" textLength="34.9" lengthAdjust="spacingAndGlyphs">2020</text>
<rect x="759.2" y="3423.3" width="49" height="5.3" fill="#2e3192"/>
<text x="768.7" y="3416.6" font-size="13" fill="#000" font-weight="bold" text-anchor="start" textLength="39.8" lengthAdjust="spacingAndGlyphs">0,29%</text>
<text x="768.7" y="3454.2" font-size="13.5" fill="#000" font-weight="bold" text-anchor="start" textLength="31.6" lengthAdjust="spacingAndGlyphs">2021</text>
<rect x="827.4" y="3393.8" width="49" height="34.8" fill="#2e3192"/>
<text x="833.6" y="3387.5" font-size="13" fill="#000" font-weight="bold" text-anchor="start" textLength="37.7" lengthAdjust="spacingAndGlyphs">1,92%</text>
<text x="841.4" y="3454.2" font-size="13.5" fill="#000" font-weight="bold" text-anchor="start" textLength="33.2" lengthAdjust="spacingAndGlyphs">2022</text>
<line x1="135.6" y1="3428.6" x2="885.7" y2="3428.6" stroke="#808080" stroke-width="1.2"/>
<line x1="136" y1="3419.3" x2="136" y2="3428.6" stroke="#808080" stroke-width="1.2"/>
</svg>
</body></html>
